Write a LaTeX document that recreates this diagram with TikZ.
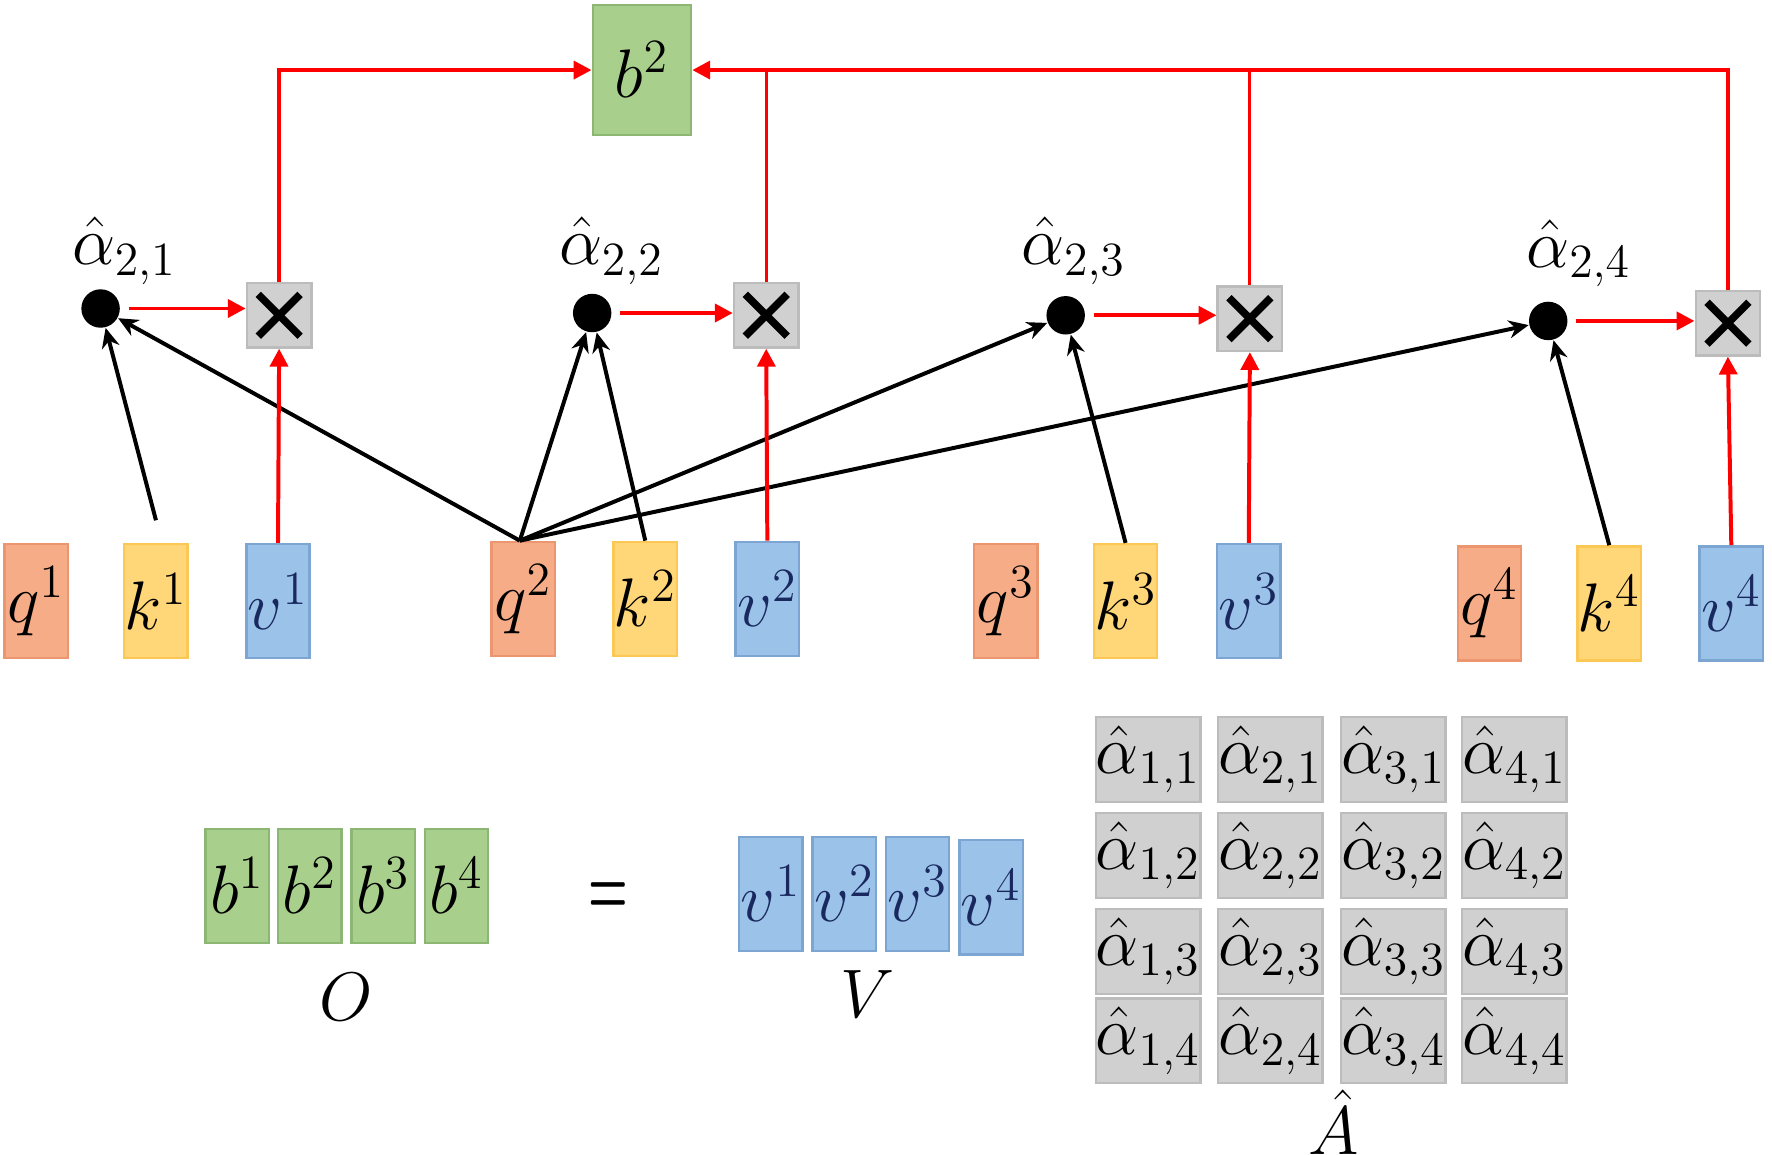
\documentclass[tikz,border=0pt]{standalone}
\usepackage{amsmath}
\usepackage{graphicx}
\usetikzlibrary{arrows.meta}
\definecolor{qfill}{RGB}{245,172,135}
\definecolor{qdraw}{RGB}{236,150,112}
\definecolor{kfill}{RGB}{255,214,120}
\definecolor{kdraw}{RGB}{252,200,85}
\definecolor{vfill}{RGB}{155,194,232}
\definecolor{vdraw}{RGB}{125,165,210}
\definecolor{vtext}{RGB}{25,40,95}
\definecolor{gfill}{RGB}{168,208,140}
\definecolor{gdraw}{RGB}{140,182,115}
\definecolor{cfill}{RGB}{208,208,208}
\definecolor{cdraw}{RGB}{188,188,188}
\definecolor{redl}{RGB}{255,0,0}
\begin{document}
\begin{tikzpicture}[x=0.01cm,y=-0.01cm,
  every node/.style={font=\fontsize{17.28}{21}\selectfont, inner sep=0pt},
  vec/.style={minimum width=0.56cm, minimum height=1.01cm, line width=0.6pt},
  qbox/.style={vec, fill=qfill, draw=qdraw},
  kbox/.style={vec, fill=kfill, draw=kdraw},
  vbox/.style={vec, fill=vfill, draw=vdraw, text=vtext},
  gbox/.style={vec, fill=gfill, draw=gdraw},
  cell/.style={minimum width=0.87cm, minimum height=0.75cm, fill=cfill, draw=cdraw, line width=0.6pt},
  mult/.style={minimum size=0.57cm, fill=cfill, draw=cdraw, line width=0.6pt,
    path picture={
      \draw[black, line width=1.9pt]
        ([shift={(-0.185cm,-0.185cm)}]path picture bounding box.center) --
        ([shift={(0.185cm,0.185cm)}]path picture bounding box.center);
      \draw[black, line width=1.9pt]
        ([shift={(-0.185cm,0.185cm)}]path picture bounding box.center) --
        ([shift={(0.185cm,-0.185cm)}]path picture bounding box.center);}},
  dotn/.style={circle, fill=black, minimum size=0.34cm},
  blk/.style={-{Stealth[length=5pt,width=4.5pt]}, line width=1pt},
  redarr/.style={-{Triangle[length=4.5pt,width=4.5pt]}, redl, line width=1pt},
  redln/.style={redl, line width=0.8pt}
]
\useasboundingbox (0,0) rectangle (1568,1022);

% input vectors
\node[qbox] (q1) at (32,532) {$q^1$};
\node[kbox] (k1) at (138,532) {$k^1$};
\node[vbox] (v1) at (246,532) {$v^1$};
\node[qbox] (q2) at (463,530) {$q^2$};
\node[kbox] (k2) at (571,530) {$k^2$};
\node[vbox] (v2) at (679,530) {$v^2$};
\node[qbox] (q3) at (890,532) {$q^3$};
\node[kbox] (k3) at (996,532) {$k^3$};
\node[vbox] (v3) at (1105,532) {$v^3$};
\node[qbox] (q4) at (1318,534) {$q^4$};
\node[kbox] (k4) at (1424,534) {$k^4$};
\node[vbox] (v4) at (1532,534) {$v^4$};

% multipliers
\node[mult] (m1) at (247,279) {};
\node[mult] (m2) at (678,279) {};
\node[mult] (m3) at (1106,282) {};
\node[mult] (m4) at (1529,286) {};

% attention score dots
\node[dotn] (d1) at (89,273) {};
\node[dotn] (d2) at (524,277) {};
\node[dotn] (d3) at (943,279) {};
\node[dotn] (d4) at (1370,284) {};
\node (l1) at (110,222) {$\hat{\alpha}_{2,1}$};
\node (l2) at (541,222) {$\hat{\alpha}_{2,2}$};
\node (l3) at (950,222) {$\hat{\alpha}_{2,3}$};
\node (l4) at (1397,224) {$\hat{\alpha}_{2,4}$};

% output
\node[gbox, minimum width=0.87cm, minimum height=1.15cm] (bt) at (568,62) {$b^2$};

% black arrows
\coordinate (qs) at ([xshift=-0.03cm]q2.north);
\draw[blk] ([yshift=0.2cm]k1.north) -- (d1);
\draw[blk] (qs) -- (d1);
\draw[blk] (qs) -- (d2);
\draw[blk] (k2.north) -- (d2);
\draw[blk] (qs) -- (d3);
\draw[blk] (k3.north) -- (d3);
\draw[blk] (qs) -- (d4);
\draw[blk] (k4.north) -- (d4);

% red arrows
\foreach \i in {1,2,3,4}{
  \draw[redarr] (v\i.north) -- (m\i.south);
  \draw[redarr] ([xshift=2pt]d\i.east) -- (d\i.east -| m\i.west);
}
\draw[redarr] (m1.north) |- (bt.west);
\draw[redarr] (m4.north) |- (bt.east);
\draw[redln] (m2.north) -- (m2.north |- bt.east);
\draw[redln] (m3.north) -- (m3.north |- bt.east);

% bottom equation
\node[gbox] (o1) at (210,784) {$b^1$};
\node[gbox] (o2) at (274,784) {$b^2$};
\node[gbox] (o3) at (339,784) {$b^3$};
\node[gbox] (o4) at (404,784) {$b^4$};
\node (eq) at (538,795) {\scalebox{0.55}[1]{\fontsize{20.74}{24}\selectfont\textbf{=}}};
\node[vbox] (w1) at (682,791) {$v^1$};
\node[vbox] (w2) at (747,791) {$v^2$};
\node[vbox] (w3) at (812,791) {$v^3$};
\node[vbox] (w4) at (877,794) {$v^4$};
\node (O) at (306,882) {$O$};
\node (V) at (768,880) {$V$};

\foreach \j/\x in {1/1016,2/1124,3/1233,4/1340}{
  \foreach \i/\y in {1/672,2/757,3/842,4/921}{
    \node[cell] (a\j\i) at (\x,\y) {$\hat{\alpha}_{\j,\i}$};
  }
}
\node[anchor=base] (Ah) at (1180,1022) {$\hat{A}$};
\end{tikzpicture}
\end{document}
